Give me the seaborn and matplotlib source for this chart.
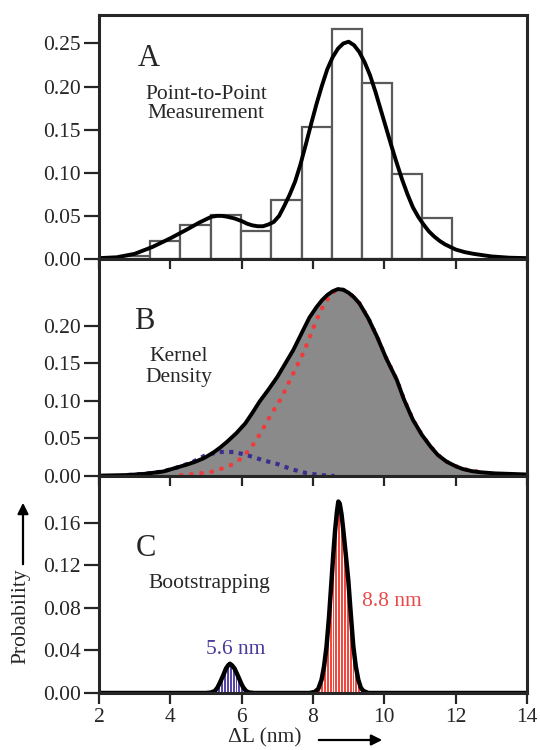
import matplotlib
matplotlib.use("Agg")
import matplotlib.pyplot as plt
import seaborn as sns
from matplotlib.patches import FancyArrowPatch
from matplotlib.ticker import FormatStrFormatter

# ---- data ----
# Panel A: point-to-point histogram + smoothed curve
hist_edges = [2.6, 3.43, 4.28, 5.14, 5.99, 6.83, 7.68, 8.53, 9.36, 10.21, 11.06, 11.90]
hist_heights = [0.004, 0.021, 0.039, 0.051, 0.032, 0.068, 0.153, 0.267, 0.204, 0.099, 0.048]

curve_a_x = [2.0, 2.5, 3.0, 3.5, 4.0, 4.5, 4.8, 5.0, 5.15, 5.3, 5.45, 5.6, 5.8, 6.0, 6.15,
             6.3, 6.45, 6.6, 6.75, 6.9, 7.05, 7.2, 7.35, 7.5, 7.65, 7.8, 7.95, 8.1, 8.25,
             8.4, 8.55, 8.7, 8.85, 9.0, 9.15, 9.3, 9.45, 9.6, 9.75, 9.9, 10.05, 10.2, 10.35,
             10.5, 10.65, 10.8, 10.95, 11.1, 11.25, 11.4, 11.55, 11.7, 11.85, 12.0, 12.25,
             12.5, 13.0, 13.5, 14.0]
curve_a_y = [0.001, 0.002, 0.006, 0.014, 0.024, 0.035, 0.042, 0.046, 0.049, 0.050, 0.050,
             0.049, 0.047, 0.044, 0.041, 0.039, 0.038, 0.038, 0.040, 0.043, 0.050, 0.062,
             0.075, 0.090, 0.110, 0.133, 0.157, 0.180, 0.201, 0.220, 0.234, 0.244, 0.250,
             0.252, 0.248, 0.240, 0.228, 0.213, 0.194, 0.173, 0.152, 0.131, 0.111, 0.092,
             0.075, 0.060, 0.049, 0.040, 0.032, 0.026, 0.021, 0.017, 0.014, 0.011, 0.008,
             0.006, 0.003, 0.0015, 0.001]

# Panel B: kernel density and its two components
kde_x = [2.0, 2.8, 3.3, 3.8, 4.2, 4.45, 4.7, 4.95, 5.2, 5.4, 5.6, 5.85, 6.1, 6.3, 6.5, 6.75,
         7.0, 7.2, 7.45, 7.7, 7.9, 8.1, 8.25, 8.4, 8.55, 8.7, 8.85, 9.0, 9.15, 9.3, 9.55,
         9.8, 10.05, 10.35, 10.55, 10.8, 11.05, 11.3, 11.5, 11.75, 12.0, 12.2, 12.45, 12.7,
         13.1, 13.6, 14.0]
kde_y = [0.0005, 0.0013, 0.003, 0.006, 0.0115, 0.015, 0.019, 0.024, 0.031, 0.038, 0.046,
         0.057, 0.070, 0.084, 0.099, 0.115, 0.132, 0.148, 0.168, 0.192, 0.211, 0.225, 0.234,
         0.241, 0.246, 0.249, 0.248, 0.244, 0.238, 0.230, 0.210, 0.185, 0.157, 0.128, 0.102,
         0.075, 0.055, 0.039, 0.028, 0.019, 0.013, 0.0093, 0.0065, 0.005, 0.0035, 0.0027,
         0.002]

comp_red_x = [4.3, 4.7, 5.2, 5.6, 5.8, 6.0, 6.2, 6.4, 6.6, 6.8, 7.1, 7.45, 7.75, 7.95, 8.1,
              8.25, 8.4, 8.55, 8.7, 8.85, 9.0, 9.15, 9.3, 9.55, 9.8, 10.05, 10.35, 10.55,
              10.8, 11.05, 11.3, 11.5, 11.75, 12.0, 12.2, 12.7]
comp_red_y = [0.001, 0.0027, 0.006, 0.0124, 0.017, 0.024, 0.034, 0.047, 0.063, 0.080, 0.103,
              0.137, 0.166, 0.190, 0.208, 0.223, 0.235, 0.244, 0.249, 0.248, 0.244, 0.238,
              0.230, 0.210, 0.185, 0.157, 0.128, 0.102, 0.075, 0.055, 0.039, 0.028, 0.019,
              0.013, 0.0093, 0.005]

comp_blue_x = [2.8, 3.3, 3.8, 4.2, 4.6, 5.0, 5.4, 5.8, 6.2, 6.6, 7.0, 7.4, 7.8, 8.2, 8.6]
comp_blue_y = [0.0013, 0.003, 0.006, 0.0115, 0.018, 0.028, 0.032, 0.032, 0.027, 0.021,
               0.016, 0.009, 0.004, 0.0012, 0.0]

# Panel C: bootstrapping
boot_x = [2.0, 5.0, 5.15, 5.25, 5.32, 5.38, 5.44, 5.5, 5.56, 5.62, 5.67, 5.73, 5.8, 5.87,
          5.93, 6.0, 6.05, 6.12, 6.2, 6.35,
          7.9, 8.05, 8.15, 8.24, 8.31, 8.38, 8.45, 8.52, 8.57, 8.62, 8.67, 8.71, 8.75, 8.8,
          8.85, 8.92, 8.99, 9.06, 9.13, 9.2, 9.27, 9.34, 9.41, 9.55, 14.0]
boot_y = [0.0, 0.0, 0.0005, 0.002, 0.005, 0.009, 0.0134, 0.018, 0.023, 0.026, 0.0275, 0.026,
          0.023, 0.018, 0.0134, 0.008, 0.005, 0.002, 0.0005, 0.0,
          0.0, 0.001, 0.004, 0.0125, 0.025, 0.044, 0.072, 0.106, 0.131, 0.153, 0.170, 0.180,
          0.178, 0.168, 0.153, 0.130, 0.106, 0.074, 0.044, 0.025, 0.0125, 0.005, 0.002, 0.0,
          0.0]

bar_w = 0.08
boot_red_centers = [8.0, 8.08, 8.16, 8.24, 8.32, 8.40, 8.48, 8.56, 8.64, 8.72, 8.80,
                    8.88, 8.96, 9.04, 9.12, 9.20, 9.28]
boot_red_heights = [0.004, 0.005, 0.008, 0.010, 0.025, 0.046, 0.085, 0.128, 0.160, 0.176,
                    0.166, 0.145, 0.115, 0.080, 0.046, 0.022, 0.008]
boot_blue_centers = [5.36, 5.44, 5.52, 5.60, 5.68, 5.76, 5.84, 5.92, 6.00]
boot_blue_heights = [0.007, 0.013, 0.019, 0.025, 0.027, 0.025, 0.019, 0.013, 0.006]

x_ticks = [2, 4, 6, 8, 10, 12, 14]

# ---- style ----
sns.set_style("ticks")
plt.rcParams['font.family'] = ['Liberation Serif', 'DejaVu Serif']
FS = 15.5
TXT = 15.5

fig = plt.figure(figsize=(5.4, 7.5), dpi=100)
left, width = 99 / 540, 428 / 540
ax_a = fig.add_axes([left, 1 - 259 / 750, width, 244 / 750])
ax_b = fig.add_axes([left, 1 - 476 / 750, width, 217 / 750])
ax_c = fig.add_axes([left, 1 - 693 / 750, width, 217 / 750])

# A
hist_centers = [(hist_edges[i] + hist_edges[i + 1]) / 2 for i in range(len(hist_heights))]
sns.histplot(x=hist_centers, weights=hist_heights, bins=hist_edges, ax=ax_a,
             color='white', edgecolor='#5a5a5a', linewidth=1.6, alpha=1)
sns.lineplot(x=curve_a_x, y=curve_a_y, ax=ax_a, color='black', lw=2.8, zorder=5)
ax_a.set_ylim(0, 0.283)
ax_a.set_yticks([0.0, 0.05, 0.10, 0.15, 0.20, 0.25])
ax_a.text(3.4, 0.233, 'A', fontsize=22, ha='center', va='center')
ax_a.text(5.0, 0.18, 'Point-to-Point\nMeasurement', fontsize=TXT, ha='center',
          va='center', linespacing=1.0)

# B
ax_b.fill_between(kde_x, kde_y, color='#8a8a8a', lw=0, zorder=1)
sns.lineplot(x=comp_red_x, y=comp_red_y, ax=ax_b, color='#ee3b3b', lw=3.2,
             linestyle=(0, (0.1, 2.2)), dash_capstyle='round', zorder=2)
sns.lineplot(x=comp_blue_x, y=comp_blue_y, ax=ax_b, color='#3a2f8f', lw=3.0,
             linestyle=(0, (1.0, 1.3)), dash_capstyle='butt', zorder=2)
sns.lineplot(x=kde_x, y=kde_y, ax=ax_b, color='black', lw=2.8, zorder=5)
ax_b.set_ylim(0, 0.289)
ax_b.set_yticks([0.0, 0.05, 0.10, 0.15, 0.20])
ax_b.text(3.26, 0.206, 'B', fontsize=22, ha='center', va='center')
ax_b.text(4.23, 0.145, 'Kernel\nDensity', fontsize=TXT, ha='center', va='center',
          linespacing=1.1)

# C
red_edges = [c - bar_w / 2 for c in boot_red_centers] + [boot_red_centers[-1] + bar_w / 2]
blue_edges = [c - bar_w / 2 for c in boot_blue_centers] + [boot_blue_centers[-1] + bar_w / 2]
sns.histplot(x=boot_red_centers, weights=boot_red_heights, bins=red_edges, ax=ax_c,
             color='#f04a40', edgecolor='white', linewidth=0.7, alpha=1)
sns.histplot(x=boot_blue_centers, weights=boot_blue_heights, bins=blue_edges, ax=ax_c,
             color='#5546a8', edgecolor='white', linewidth=0.7, alpha=1)
sns.lineplot(x=boot_x, y=boot_y, ax=ax_c, color='black', lw=3.2, zorder=5)
ax_c.set_ylim(0, 0.204)
ax_c.set_yticks([0.0, 0.04, 0.08, 0.12, 0.16])
ax_c.text(3.31, 0.136, 'C', fontsize=22, ha='center', va='center')
ax_c.text(5.1, 0.103, 'Bootstrapping', fontsize=TXT, ha='center', va='center')
ax_c.text(5.83, 0.041, '5.6 nm', fontsize=TXT, ha='center', va='center', color='#4a3a9a')
ax_c.text(10.2, 0.086, '8.8 nm', fontsize=TXT, ha='center', va='center', color='#e84a4a')

for ax in (ax_a, ax_b, ax_c):
    ax.set_xlim(2, 14)
    ax.set_xticks(x_ticks)
    ax.set_xlabel('')
    ax.set_ylabel('')
    ax.yaxis.set_major_formatter(FormatStrFormatter('%.2f'))
    ax.tick_params(axis='y', direction='out', length=11, width=1.6, labelsize=FS, pad=2)
    ax.tick_params(axis='x', bottom=False, top=False, labelbottom=False)
    for s in ax.spines.values():
        s.set_visible(True)
        s.set_linewidth(2.2)
        s.set_zorder(10)

# inward ticks along the top of panels B and C
for ax in (ax_b, ax_c):
    sec = ax.secondary_xaxis('top')
    sec.set_xticks(x_ticks)
    sec.tick_params(direction='in', length=7, width=1.6, labeltop=False)
    sec.spines['top'].set_visible(False)

# outward ticks + labels on the bottom of panel C
ax_c.tick_params(axis='x', bottom=True, direction='out', length=8, width=1.6,
                 labelbottom=True, labelsize=FS, pad=3)

# axis labels with arrows
fig.text(21 / 540, 1 - 616 / 750, 'Probability', rotation=90, fontsize=FS,
         ha='center', va='center')
fig.add_artist(FancyArrowPatch((23 / 540, 1 - 567 / 750), (23 / 540, 1 - 500 / 750),
                               transform=fig.transFigure, arrowstyle='-|>',
                               mutation_scale=16, lw=1.6, color='black'))
fig.text(265 / 540, 1 - 738 / 750, 'ΔL (nm)', fontsize=FS, ha='center', va='center')
fig.add_artist(FancyArrowPatch((316 / 540, 1 - 740 / 750), (385 / 540, 1 - 740 / 750),
                               transform=fig.transFigure, arrowstyle='-|>',
                               mutation_scale=16, lw=1.6, color='black'))

fig.savefig('out.png', dpi=100, facecolor='white')
